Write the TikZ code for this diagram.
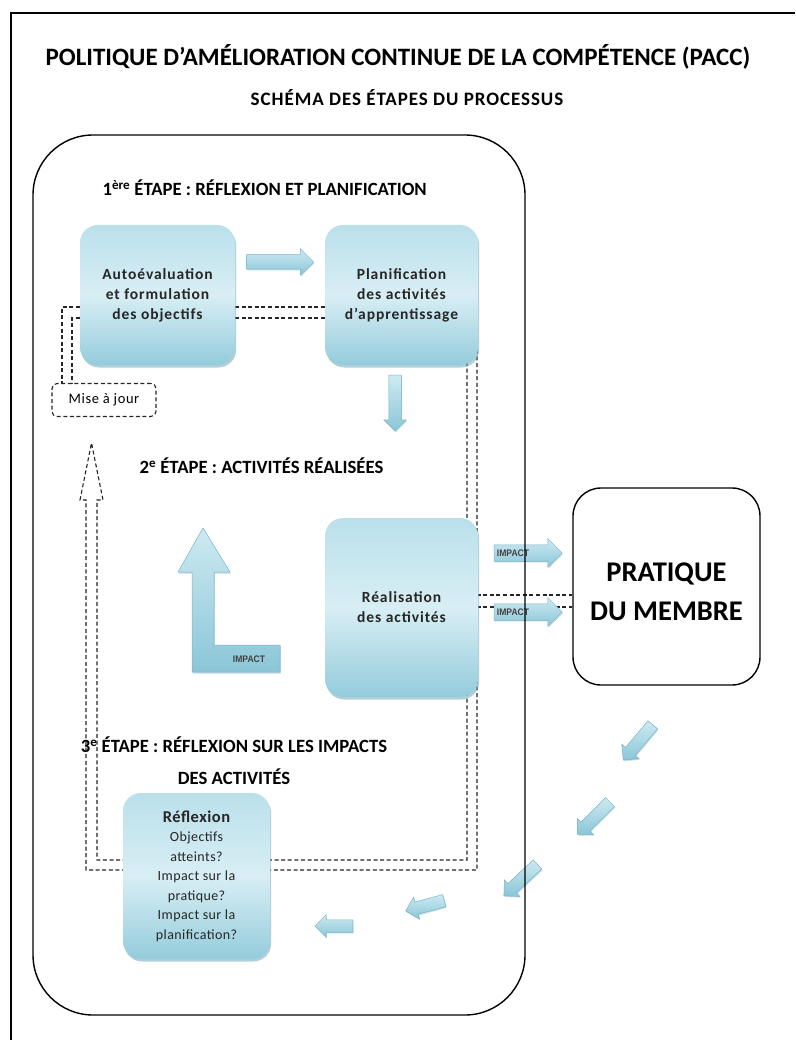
\documentclass[tikz,border=0pt]{standalone}
\usepackage{graphicx}
\usepackage{fontspec}
\setmainfont{Carlito}
\newfontfamily\impfont{Liberation Sans}
\newfontfamily\boxfont[LetterSpace=6]{Carlito}
\newfontfamily\reflfont[LetterSpace=3]{Carlito}
\newfontfamily\misefont[LetterSpace=4]{Carlito}
\newfontfamily\subfont[LetterSpace=5]{Carlito}
\usetikzlibrary{shapes.arrows,shadows,calc}
\definecolor{bA}{RGB}{186,224,235}
\definecolor{bM}{RGB}{216,238,244}
\definecolor{bB}{RGB}{148,204,220}
\definecolor{bS}{RGB}{110,168,188}
\definecolor{aA}{RGB}{206,234,242}
\definecolor{aB}{RGB}{138,198,215}
\definecolor{aE}{RGB}{120,180,200}
\newcommand{\imptext}{\scalebox{0.9}[1]{IMPACT}}
\tikzset{
  bluebox/.style={rectangle, rounded corners=18pt, top color=bA, bottom color=bB, middle color=bM,
    align=center, text=black!85, inner sep=2pt,
    drop shadow={shadow xshift=1.2pt, shadow yshift=-2.5pt, fill=bS, opacity=0.55}},
  boxtext/.style={font=\boxfont\fontsize{15.5}{20}\selectfont\bfseries},
  blockarrow/.style={single arrow, single arrow head extend=5pt, inner xsep=0pt, inner ysep=6pt,
    top color=aA, bottom color=aB, draw=aE, line width=0.5pt,
    drop shadow={shadow xshift=0.8pt, shadow yshift=-1.2pt, fill=bS, opacity=0.4}},
  imparrow/.style={blockarrow, inner ysep=8pt, minimum height=68pt, single arrow head extend=6pt},
  implabel/.style={font=\impfont\bfseries\fontsize{9.5}{10}\selectfont, text=black!75, inner sep=0pt},
  dl/.style={draw=black!85, line width=1.1pt, dash pattern=on 4pt off 2.6pt},
  stagefont/.style={font=\fontsize{18.7}{32}\selectfont\bfseries},
}
\begin{document}
\begin{tikzpicture}[x=1pt,y=-1pt]
\useasboundingbox (0,0) rectangle (795,1040);
\fill[white] (0,0) rectangle (795,1040);
\draw[line width=2.6pt] (11,1040) -- (11,13) -- (795,13);

% titles
\node[font=\fontsize{25}{28}\selectfont\bfseries] (title) at (398,57) {POLITIQUE D’AMÉLIORATION CONTINUE DE LA COMPÉTENCE (PACC)};
\node[font=\subfont\fontsize{19}{22}\selectfont\bfseries] (sub) at (407,98) {SCHÉMA DES ÉTAPES DU PROCESSUS};

\node[stagefont, anchor=west] (st1) at (99,188) {1\textsuperscript{ère} ÉTAPE : RÉFLEXION ET PLANIFICATION};
\node[stagefont, anchor=west] (st2) at (136,466) {2\textsuperscript{e} ÉTAPE : ACTIVITÉS RÉALISÉES};
\node[stagefont, align=center] (st3) at (234,761) {3\textsuperscript{e} ÉTAPE : RÉFLEXION SUR LES IMPACTS\\DES ACTIVITÉS};

% reference coordinates of the dashed loop
\coordinate (OTL) at (62,307);
\coordinate (ITL) at (72,318);
\coordinate (ORB) at (477,870);
\coordinate (IRB) at (467,860);
\coordinate (OLB) at (86,870);
\coordinate (ILB) at (97,860);
\coordinate (HB) at (0,500);
\coordinate (tipUp) at (91.5,443);
\coordinate (yA) at (0,595);
\coordinate (yB) at (0,607);

\node[dl, rounded corners=5pt, minimum width=104pt, minimum height=33pt, font=\misefont\fontsize{14.5}{16}\selectfont] (mise) at (104,400) {Mise à jour};
\node[draw, line width=1.4pt, rounded corners=28pt, minimum width=187pt, minimum height=197pt, align=center,
  font=\fontsize{28.5}{38}\selectfont\bfseries] (prat) at (666.5,586.5) {};
\node[align=center, font=\fontsize{28.5}{39}\selectfont\bfseries] (pratlbl) at (666.5,592) {PRATIQUE\\DU MEMBRE};

% dashed connectors (behind the boxes)
\draw[dl] (80,307) -- (OTL) -- (mise.north -| OTL);
\draw[dl] (80,318) -- (ITL) -- (mise.north -| ITL);
\draw[dl] (235,307) -- (325,307);
\draw[dl] (235,318) -- (325,318);
\draw[dl] (ORB |- 0,330) -- (ORB) -- (OLB) -- (OLB |- HB) -- ++(-6,0) -- (tipUp) -- (103,500) -- (ILB |- HB) -- (ILB) -- (IRB) -- (IRB |- 0,330);
\draw[dl] (470,595) -- (prat.west |- yA);
\draw[dl] (470,607) -- (prat.west |- yB);

% boxes
\node[bluebox, boxtext, minimum width=155pt, minimum height=140pt] (b1) at (157.5,295) {Autoévaluation\\et formulation\\des objectifs};
\node[bluebox, boxtext, minimum width=153pt, minimum height=140pt] (b2) at (401.5,295) {Planification\\des activités\\d’apprentissage};
\node[bluebox, boxtext, minimum width=153pt, minimum height=179pt] (b3) at (401.5,607.5) {Réalisation\\des activités};
\node[bluebox, minimum width=147pt, minimum height=166pt, font=\reflfont\fontsize{14}{19.5}\selectfont] (refl) at (196.5,876)
  {{\bfseries\fontsize{16.5}{19.5}\selectfont Réflexion}\\Objectifs\\atteints?\\Impact sur la\\pratique?\\Impact sur la\\planification?};

% block arrows
\node[blockarrow, inner ysep=7pt, single arrow head extend=6pt, minimum height=67pt] (ar12) at (276.5,262) {};
\node[blockarrow, minimum height=56pt, rotate=-90] (ardown) at (395,400) {};
\node[imparrow] (imp1) at (524,553) {};
\node[imparrow] (imp2) at (524,612) {};
\node[implabel] (imp1l) at (513,553) {\imptext};
\node[implabel] (imp2l) at (513,612) {\imptext};
\node[blockarrow, minimum height=46pt, rotate=230] (d1) at (640,740) {};
\node[blockarrow, minimum height=46pt, rotate=225] (d2) at (596,816) {};
\node[blockarrow, minimum height=46pt, rotate=223] (d3) at (523,878) {};
\node[blockarrow, minimum height=40pt, rotate=195] (d4) at (428,905) {};
\node[blockarrow, minimum height=38pt, rotate=180] (d5) at (337,926) {};

% L-shaped impact arrow
\path[top color=aA, bottom color=aB, draw=aE, line width=0.5pt,
  drop shadow={shadow xshift=0.8pt, shadow yshift=-1.5pt, fill=bS, opacity=0.4}]
  (192,572) -- (178,572) -- (203,528) -- (230,572) -- (214,572) -- (214,645) -- (280,645) -- (280,672) -- (192,672) -- cycle;
\node[implabel] (limp) at (249,659) {\imptext};

% stage container
\node[draw, line width=1.4pt, rounded corners=60pt, minimum width=492pt, minimum height=880pt] (cont) at (279,575) {};
\end{tikzpicture}
\end{document}
